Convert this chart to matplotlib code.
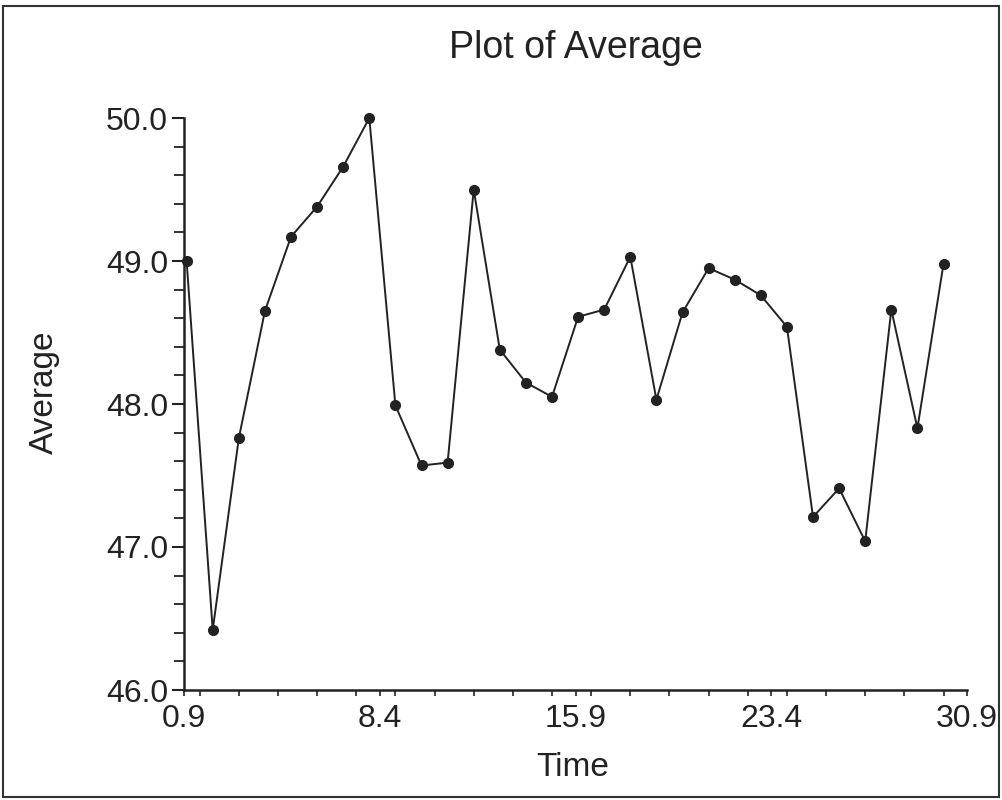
import matplotlib
matplotlib.use("Agg")
import matplotlib.pyplot as plt
from matplotlib.ticker import MultipleLocator
from matplotlib.patches import Rectangle

time = list(range(1, 31))
average = [49.00, 46.42, 47.76, 48.65, 49.17, 49.38, 49.66, 50.00, 47.99, 47.57,
           47.59, 49.50, 48.38, 48.15, 48.05, 48.61, 48.66, 49.03, 48.03, 48.64,
           48.95, 48.87, 48.76, 48.54, 47.21, 47.41, 47.04, 48.66, 47.83, 48.98]
xticks = [0.9, 8.4, 15.9, 23.4, 30.9]
xtick_labels = ["0.9", "8.4", "15.9", "23.4", "30.9"]
yticks = [46.0, 47.0, 48.0, 49.0, 50.0]
ytick_labels = ["46.0", "47.0", "48.0", "49.0", "50.0"]

plt.rcParams['font.family'] = ['Liberation Sans', 'DejaVu Sans']

fig = plt.figure(figsize=(10.02, 8.0), dpi=100)
ax = fig.add_axes([184/1002, 1 - 690/800, (967-184)/1002, (690-118)/800])

ax.plot(time, average, color='#222222', lw=1.4, marker='o', ms=7,
        mfc='#222222', mec='#222222', clip_on=False)

ax.set_xlim(0.9, 30.9)
ax.set_ylim(46.0, 50.0)
ax.set_xticks(xticks)
ax.set_xticklabels(xtick_labels)
ax.set_yticks(yticks)
ax.set_yticklabels(ytick_labels)
ax.xaxis.set_minor_locator(MultipleLocator(1.5))
ax.yaxis.set_minor_locator(MultipleLocator(0.2))

for s in ['top', 'right']:
    ax.spines[s].set_visible(False)
for s in ['left', 'bottom']:
    ax.spines[s].set_linewidth(1.8)
    ax.spines[s].set_color('#222222')

ax.tick_params(axis='y', which='major', length=8.5, width=1.5, labelsize=23, pad=3, colors='#222222')
ax.tick_params(axis='y', which='minor', length=7.5, width=1.3, colors='#222222')
ax.tick_params(axis='x', which='both', length=4, width=1.2, labelsize=23, pad=6, colors='#222222')

ax.set_xlabel("Time", fontsize=24, color='#222222')
ax.xaxis.set_label_coords(0.497, -0.1505)
ax.xaxis.label.set_va('baseline')
ax.set_ylabel("Average", fontsize=24, color='#222222')
ax.yaxis.set_label_coords(-0.158, 0.521)
ax.set_title("Plot of Average", fontsize=27, color='#222222', pad=43)

fig.patches.append(Rectangle((3/1002, 3/800), 996/1002, 791/800, transform=fig.transFigure,
                             fill=False, edgecolor='#333333', lw=1.5))

fig.savefig("out.png", dpi=100, facecolor='white')
